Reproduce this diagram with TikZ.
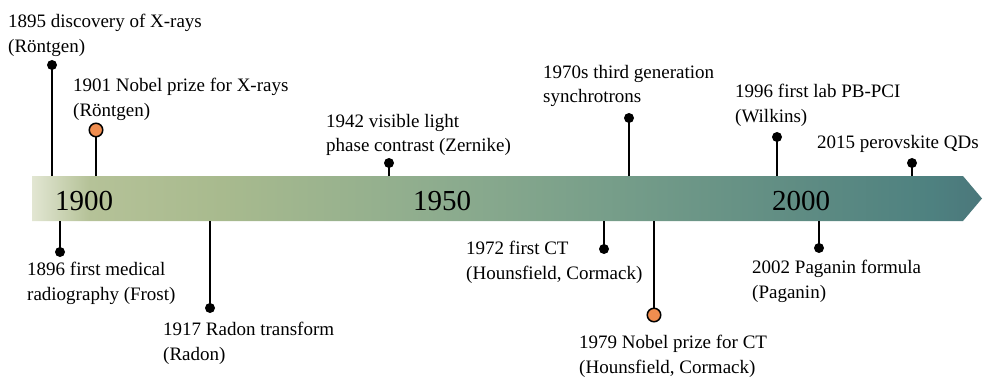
\documentclass[tikz,border=0pt]{standalone}
\usepackage{fontspec}
\setmainfont{Liberation Serif}
\definecolor{c0}{HTML}{E2E6D2}
\definecolor{c1}{HTML}{B5C298}
\definecolor{c2}{HTML}{A8BA8E}
\definecolor{c3}{HTML}{8DAC8E}
\definecolor{c4}{HTML}{749C89}
\definecolor{c5}{HTML}{5F8C83}
\definecolor{c6}{HTML}{4E8180}
\definecolor{c7}{HTML}{4B777B}
\definecolor{nobel}{HTML}{F08D4F}
\pgfdeclarehorizontalshading{barshade}{100bp}{color(0bp)=(c0); color(25bp)=(c0); color(28bp)=(c1); color(35bp)=(c2); color(46.5bp)=(c3); color(56.5bp)=(c4); color(65.4bp)=(c5); color(72.3bp)=(c6); color(75bp)=(c7); color(100bp)=(c7)}
\tikzset{
  dot/.style={circle,fill=black,inner sep=0pt,minimum size=10pt},
  odot/.style={circle,fill=nobel,draw=black,line width=1.5pt,inner sep=0pt,minimum size=13.5pt},
  stem/.style={line width=2pt,black},
  lbl/.style={anchor=north west,align=left,inner sep=0pt,font=\fontsize{19}{24.5}\selectfont},
  year/.style={anchor=base,inner sep=0pt,font=\fontsize{29}{30}\selectfont}
}
\begin{document}
\begin{tikzpicture}[x=1pt,y=-1pt]
\useasboundingbox (0,0) rectangle (988,377);
% bar
\shade[shading=barshade] (32,176) -- (963,176) -- (982,198.5) -- (963,221) -- (32,221) -- cycle;
\node[year] (y1900) at (84,210) {1900};
\node[year] (y1950) at (442,210) {1950};
\node[year] (y2000) at (801,210) {2000};
% bar edge coordinates
\coordinate (t1895) at (52,176);
\coordinate (t1901) at (96,176);
\coordinate (t1942) at (389,176);
\coordinate (t1970) at (629,176);
\coordinate (t1996) at (777,176);
\coordinate (t2015) at (912,176);
\coordinate (b1896) at (60,221);
\coordinate (b1917) at (210,221);
\coordinate (b1972) at (604,221);
\coordinate (b1979) at (654,221);
\coordinate (b2002) at (819,221);
% stems and dots above
\draw[stem] (t1895) -- (52,65);
\node[dot] (d1895) at (52,65) {};
\draw[stem] (t1901) -- (96,130);
\node[odot] (d1901) at (96,130) {};
\draw[stem] (t1942) -- (389,163);
\node[dot] (d1942) at (389,163) {};
\draw[stem] (t1970) -- (629,118);
\node[dot] (d1970) at (629,118) {};
\draw[stem] (t1996) -- (777,137);
\node[dot] (d1996) at (777,137) {};
\draw[stem] (t2015) -- (912,163);
\node[dot] (d2015) at (912,163) {};
% stems and dots below
\draw[stem] (b1896) -- (60,252);
\node[dot] (d1896) at (60,252) {};
\draw[stem] (b1917) -- (210,308);
\node[dot] (d1917) at (210,308) {};
\draw[stem] (b1972) -- (604,249);
\node[dot] (d1972) at (604,249) {};
\draw[stem] (b1979) -- (654,315);
\node[odot] (d1979) at (654,315) {};
\draw[stem] (b2002) -- (819,248);
\node[dot] (d2002) at (819,248) {};
% labels
\node[lbl] (l1895) at (8,14) {1895 discovery of X-rays\\(Röntgen)};
\node[lbl] (l1901) at (73,78) {1901 Nobel prize for X-rays\\(Röntgen)};
\node[lbl] (l1942) at (326,114) {1942 visible light\\phase contrast (Zernike)};
\node[lbl] (l1970) at (543,65) {1970s third generation\\synchrotrons};
\node[lbl] (l1996) at (735,84) {1996 first lab PB-PCI\\(Wilkins)};
\node[lbl] (l2015) at (817,135) {2015 perovskite QDs};
\node[lbl] (l1896) at (27,262) {1896 first medical\\radiography (Frost)};
\node[lbl] (l1917) at (163,322) {1917 Radon transform\\(Radon)};
\node[lbl] (l1972) at (466,241) {1972 first CT\\(Hounsfield, Cormack)};
\node[lbl] (l1979) at (579,335) {1979 Nobel prize for CT\\(Hounsfield, Cormack)};
\node[lbl] (l2002) at (752,260) {2002 Paganin formula\\(Paganin)};
\end{tikzpicture}
\end{document}
